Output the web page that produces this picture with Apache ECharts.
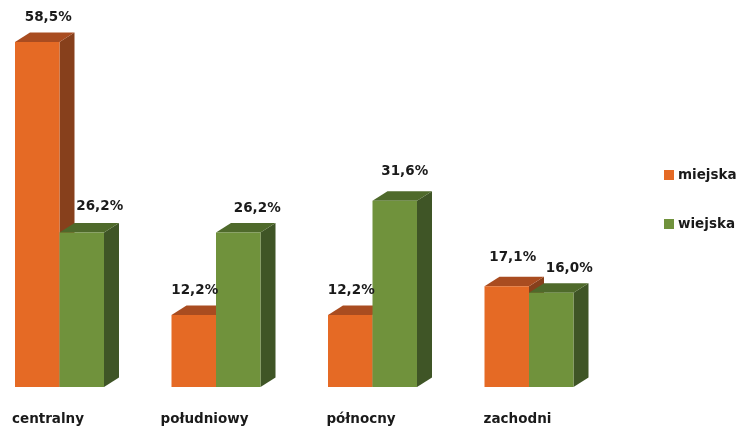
<!DOCTYPE html>
<html><head><meta charset="utf-8">
<style>html,body{margin:0;padding:0;background:#fff}#c{width:737px;height:430px}</style>
<script src="https://cdn.jsdelivr.net/npm/echarts@6/dist/echarts.min.js"></script></head>
<body><div id="c"></div>
<script>
const categories = ['centralny','południowy','północny','zachodni'];
const miejska = [58.5,12.2,12.2,17.1];
const wiejska = [26.2,26.2,31.6,16.0];
const seriesNames = ['miejska','wiejska'];

// layout only: label nudges in px [dx, dy] from the default spot above each bar
const nudgeM = [[11,-25],[1,-25],[1,-25],[6,-29]];
const nudgeW = [[18,-26],[19,-24],[10,-29],[18,-24]];
const BAR_W = 44.5, DX = 15, DY = 9.5;
const palette = [
  {front:'#E56A25', top:'#A94C20', side:'#87401C'},
  {front:'#70923C', top:'#4F6A2B', side:'#3F5526'}
];
const FONT = '"DejaVu Sans"';
function fmt(v){return v.toFixed(1).replace('.',',')+'%';}

function render(sIdx, nudges){
  return function(params, api){
    const i = api.value(0), v = api.value(1);
    const top = api.coord([i, v]), base = api.coord([i, 0]);
    const x0 = base[0] + (sIdx === 0 ? -BAR_W : 0), x1 = x0 + BAR_W;
    const yT = top[1], yB = base[1], c = palette[sIdx], n = nudges[i];
    return {type:'group', children:[
      {type:'polygon', shape:{points:[[x1,yT],[x1+DX,yT-DY],[x1+DX,yB-DY],[x1,yB]]}, style:{fill:c.side}},
      {type:'polygon', shape:{points:[[x0,yT],[x0+DX,yT-DY],[x1+DX,yT-DY],[x1,yT]]}, style:{fill:c.top}},
      {type:'rect', shape:{x:x0,y:yT,width:BAR_W,height:yB-yT}, style:{fill:c.front}},
      {type:'text', z2:10, style:{x:(x0+x1)/2+n[0], y:yT+n[1], text:fmt(v), fill:'#1a1a1a',
        font:'bold 13.5px '+FONT, textAlign:'center', textVerticalAlign:'middle'}}
    ]};
  };
}
const chart = echarts.init(document.getElementById('c'), null, {renderer:'canvas'});
chart.setOption({
  animation:false,
  backgroundColor:'#fff',
  grid:{left:-18.75,width:626,top:42,bottom:43,containLabel:false,outerBoundsMode:'none'},
  xAxis:{type:'category',data:categories,axisLine:{show:false},axisTick:{show:false},splitLine:{show:false},
    axisLabel:{margin:25,color:'#1a1a1a',fontFamily:FONT,fontWeight:'bold',fontSize:13.5,padding:[0,23,0,0],interval:0}},
  yAxis:{type:'value',min:0,max:58.5,show:false},
  legend:{orient:'vertical',left:659,top:163,itemWidth:10,itemHeight:10,itemGap:35,icon:'rect',
    data:seriesNames,selectedMode:false,
    textStyle:{color:'#1a1a1a',fontFamily:FONT,fontWeight:'bold',fontSize:13.5,padding:[0,0,0,-1]}},
  series:[
    {name:seriesNames[0],type:'custom',coordinateSystem:'cartesian2d',encode:{x:0,y:1},clip:false,
     itemStyle:{color:palette[0].front},renderItem:render(0,nudgeM),data:miejska.map((v,i)=>[i,v])},
    {name:seriesNames[1],type:'custom',coordinateSystem:'cartesian2d',encode:{x:0,y:1},clip:false,
     itemStyle:{color:palette[1].front},renderItem:render(1,nudgeW),data:wiejska.map((v,i)=>[i,v])}
  ]
});
</script></body></html>
